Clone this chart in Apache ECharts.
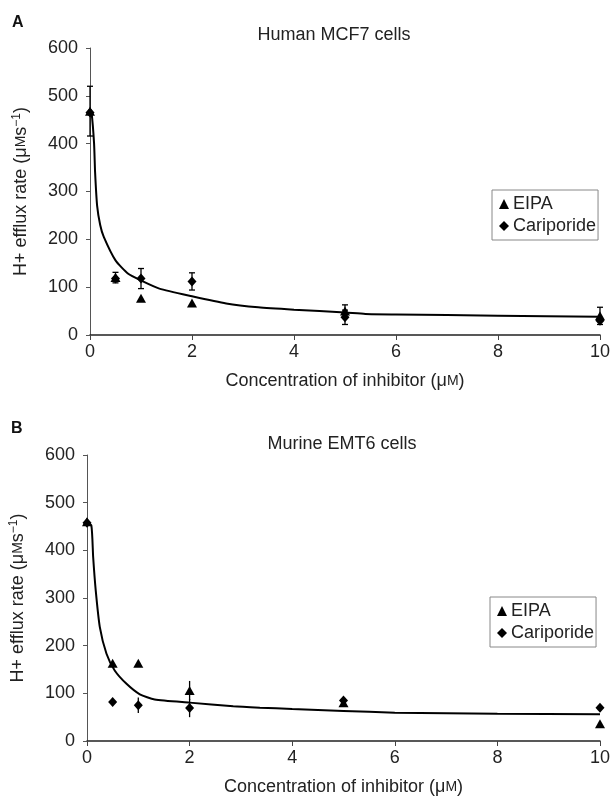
<!DOCTYPE html>
<html>
<head>
<meta charset="utf-8">
<script src="https://cdn.jsdelivr.net/npm/echarts@6/dist/echarts.min.js"></script>
<style>
  html, body { margin: 0; padding: 0; background: #fff; }
  #chart { width: 613px; height: 799px; }
</style>
</head>
<body>
<div id="chart"></div>
<script>
// concentrations tested (uM)
const concentrations = [0, 0.5, 1, 2, 5, 10];

// panel A - human MCF7
const mcf7Eipa = [468, 120, 77, 67, 50, 40];
const mcf7EipaErr = [52, 11, 0, 0, 13, 18];
const mcf7Cariporide = [465, 118, 118, 112, 37, 30];
const mcf7CariporideErr = [0, 0, 21, 18, 15, 0];
const mcf7FitX = [0, 0.03, 0.08, 0.1, 0.14, 0.2, 0.27, 0.5, 0.75, 1, 1.36, 2, 2.67, 3.3, 4, 5, 5.4, 6, 8, 10];
const mcf7FitY = [468, 465, 400, 340, 270, 230, 205, 156, 128, 114, 97, 81, 66, 58, 53, 47, 44, 43, 40.5, 38];

// panel B - murine EMT6
const emt6Eipa = [460, 163, 163, 106, 80, 36];
const emt6EipaErr = [0, 0, 0, 20, 5, 0];
const emt6Cariporide = [458, 82, 75, 69, 85, 70];
const emt6CariporideErr = [0, 0, 16, 19, 0, 0];
const emt6FitX = [0, 0.085, 0.12, 0.17, 0.25, 0.38, 0.54, 0.77, 1.03, 1.32, 2, 2.85, 3.37, 4, 5, 6, 8, 10];
const emt6FitY = [459, 452, 386, 316, 239, 183, 148, 120, 98, 87, 80.5, 73, 70, 67, 63, 59.5, 57, 56];

const xTicks = [0, 2, 4, 6, 8, 10];
const yTicks = [0, 100, 200, 300, 400, 500, 600];

const FONT = '"Liberation Sans", Arial, Helvetica, sans-serif';
const TEXT = '#222';
const SIZE = 18;

const pairs = (xs, ys) => xs.map((x, i) => [x, ys[i]]);

function errorData(ys, errs) {
  return concentrations
    .map((x, i) => [x, ys[i] - errs[i], ys[i] + errs[i]])
    .filter((d, i) => errs[i] > 0);
}

function errorSeries(index, data, capHalf) {
  return {
    type: 'custom',
    xAxisIndex: index,
    yAxisIndex: index,
    silent: true,
    z: 2,
    encode: { x: 0, y: [1, 2] },
    data,
    renderItem: (params, api) => {
      const top = api.coord([api.value(0), api.value(2)]);
      const bottom = api.coord([api.value(0), api.value(1)]);
      const style = { stroke: '#000', lineWidth: 1.3 };
      const children = [
        { type: 'line', shape: { x1: top[0], y1: top[1], x2: bottom[0], y2: bottom[1] }, style },
      ];
      if (capHalf > 0) {
        children.push(
          { type: 'line', shape: { x1: top[0] - capHalf, y1: top[1], x2: top[0] + capHalf, y2: top[1] }, style },
          { type: 'line', shape: { x1: bottom[0] - capHalf, y1: bottom[1], x2: bottom[0] + capHalf, y2: bottom[1] }, style }
        );
      }
      return { type: 'group', children };
    },
  };
}

function panelSeries(index, eipa, eipaErr, cari, cariErr, fitX, fitY, capHalf) {
  return [
    {
      type: 'line',
      name: 'fit',
      xAxisIndex: index,
      yAxisIndex: index,
      data: pairs(fitX, fitY),
      showSymbol: false,
      smooth: 0.2,
      lineStyle: { color: '#000', width: 2 },
      z: 1,
      silent: true,
    },
    errorSeries(index, errorData(eipa, eipaErr).concat(errorData(cari, cariErr)), capHalf),
    {
      type: 'scatter',
      name: 'EIPA',
      xAxisIndex: index,
      yAxisIndex: index,
      data: pairs(concentrations, eipa),
      symbol: 'triangle',
      symbolSize: [10, 9],
      itemStyle: { color: '#000', opacity: 1 },
      z: 3,
    },
    {
      type: 'scatter',
      name: 'Cariporide',
      xAxisIndex: index,
      yAxisIndex: index,
      data: pairs(concentrations, cari),
      symbol: 'diamond',
      symbolSize: [9, 10],
      itemStyle: { color: '#000', opacity: 1 },
      z: 4,
    },
  ];
}

function xAxis(index) {
  return {
    type: 'value',
    gridIndex: index,
    min: xTicks[0],
    max: xTicks[xTicks.length - 1],
    interval: 2,
    name: 'Concentration of inhibitor (μ{sc|M})',
    nameLocation: 'middle',
    nameGap: 37,
    nameTextStyle: {
      fontFamily: FONT,
      fontSize: SIZE,
      color: TEXT,
      rich: { sc: { fontFamily: FONT, fontSize: 14, color: TEXT } },
    },
    axisLine: { show: true, onZero: false, lineStyle: { color: '#222', width: 1.5 } },
    axisTick: { show: true, length: 5, lineStyle: { color: '#444' } },
    axisLabel: { fontFamily: FONT, fontSize: SIZE, color: TEXT, margin: 8 },
    splitLine: { show: false },
  };
}

function yAxis(index) {
  return {
    type: 'value',
    gridIndex: index,
    min: yTicks[0],
    max: yTicks[yTicks.length - 1],
    interval: 100,
    name: 'H+ efflux rate (μ{sc|M}s{sup|−1})',
    nameLocation: 'middle',
    nameRotate: 90,
    nameGap: 59,
    nameTextStyle: {
      fontFamily: FONT,
      fontSize: SIZE,
      color: TEXT,
      rich: {
        sc: { fontFamily: FONT, fontSize: 14, color: TEXT },
        sup: { fontFamily: FONT, fontSize: 12, color: TEXT, padding: [0, 0, 8, 0] },
      },
    },
    axisLine: { show: true, lineStyle: { color: '#555', width: 1 } },
    axisTick: { show: true, length: 4, lineStyle: { color: '#555' } },
    axisLabel: { fontFamily: FONT, fontSize: SIZE, color: TEXT, margin: 12 },
    splitLine: { show: false },
  };
}

function legend(left, top) {
  return {
    left,
    top,
    orient: 'vertical',
    selectedMode: false,
    backgroundColor: '#fff',
    borderColor: '#888',
    borderWidth: 1,
    borderRadius: 0,
    padding: [4, 2, 4, 7],
    itemGap: 2,
    itemWidth: 10,
    itemHeight: 10,
    itemStyle: { color: '#000' },
    textStyle: { fontFamily: FONT, fontSize: SIZE, color: TEXT, lineHeight: 20, padding: [0, 0, 0, -1] },
    data: [
      { name: 'EIPA', icon: 'triangle' },
      { name: 'Cariporide', icon: 'diamond' },
    ],
  };
}

const chart = echarts.init(document.getElementById('chart'), null, { renderer: 'canvas' });

chart.setOption({
  animation: false,
  backgroundColor: '#fff',
  title: [
    { text: 'A', left: 12, top: 15, padding: 0, textStyle: { fontFamily: FONT, fontSize: 16, fontWeight: 'bold', color: '#111' } },
    { text: 'Human MCF7 cells', left: 334, top: 26, padding: 0, textAlign: 'center', textStyle: { fontFamily: FONT, fontSize: SIZE, fontWeight: 'normal', color: TEXT } },
    { text: 'B', left: 11, top: 421, padding: 0, textStyle: { fontFamily: FONT, fontSize: 16, fontWeight: 'bold', color: '#111' } },
    { text: 'Murine EMT6 cells', left: 342, top: 435, padding: 0, textAlign: 'center', textStyle: { fontFamily: FONT, fontSize: SIZE, fontWeight: 'normal', color: TEXT } },
  ],
  legend: [legend(492, 190), legend(490, 597)],
  grid: [
    { left: 90, top: 48, width: 513, height: 287 },
    { left: 87, top: 455, width: 514, height: 286 },
  ],
  xAxis: [xAxis(0), xAxis(1)],
  yAxis: [yAxis(0), yAxis(1)],
  series: [
    ...panelSeries(0, mcf7Eipa, mcf7EipaErr, mcf7Cariporide, mcf7CariporideErr, mcf7FitX, mcf7FitY, 3),
    ...panelSeries(1, emt6Eipa, emt6EipaErr, emt6Cariporide, emt6CariporideErr, emt6FitX, emt6FitY, 0),
  ],
});
</script>
</body>
</html>
